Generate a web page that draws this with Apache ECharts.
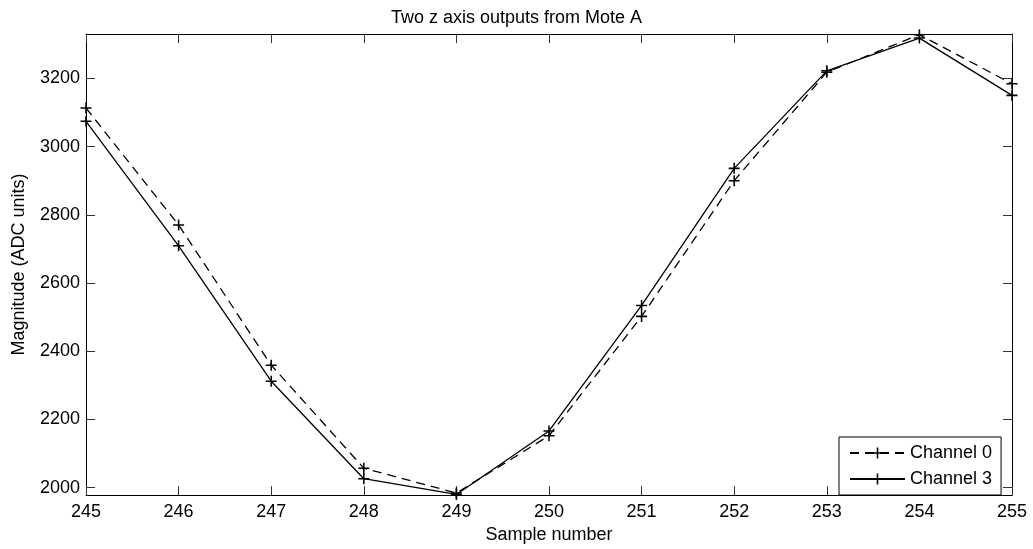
<!DOCTYPE html>
<html>
<head>
<meta charset="utf-8">
<title>Two z axis outputs from Mote A</title>
<script src="https://cdn.jsdelivr.net/npm/echarts@6/dist/echarts.min.js"></script>
<style>
    html, body { margin: 0; padding: 0; background: #fff; }
    #chart { width: 1033px; height: 549px; }
</style>
</head>
<body>
<div id="chart"></div>
<script>
const samples = [245, 246, 247, 248, 249, 250, 251, 252, 253, 254, 255]
const channel0 = [3113, 2770, 2359, 2057, 1984, 2152, 2502, 2900, 3218, 3328, 3184]
const channel3 = [3074, 2709, 2312, 2026, 1980, 2166, 2534, 2936, 3222, 3318, 3150]
const yTicks = [2000, 2200, 2400, 2600, 2800, 3000, 3200]

// '+' marker, filled so it reads like a stroked cross
const plus = 'path://M4.3,0H5.7V4.3H10V5.7H5.7V10H4.3V5.7H0V4.3H4.3Z'
const font = 'Liberation Sans, Arial, Helvetica, sans-serif'
const fs = 18

function pairs(ys) {
    return samples.map((x, i) => [x, ys[i]])
}

const axisLine = { lineStyle: { color: '#000', width: 1 } }
const tick = { inside: true, length: 9, lineStyle: { color: '#333' } }

const chart = echarts.init(document.getElementById('chart'))
chart.setOption({
    animation: false,
    textStyle: { fontFamily: font },
    title: {
        text: 'Two z axis outputs from Mote A',
        left: 'center',
        top: 4,
        textStyle: { fontSize: fs, fontWeight: 'normal', color: '#000', fontFamily: font }
    },
    grid: { left: 86, top: 34, right: 21, bottom: 51 },
    legend: {
        data: ['Channel 0', 'Channel 3'],
        orient: 'vertical',
        left: 839,
        top: 437,
        padding: [7, 9, 7, 10],
        itemGap: 8,
        itemWidth: 55,
        itemHeight: 14,
        borderColor: '#000',
        borderWidth: 1,
        backgroundColor: '#fff',
        textStyle: { fontSize: fs, color: '#000', fontFamily: font }
    },
    xAxis: [
        {
            type: 'value',
            min: 245,
            max: 255,
            interval: 1,
            name: 'Sample number',
            nameLocation: 'middle',
            nameGap: 28,
            nameTextStyle: { fontSize: fs, color: '#000', fontFamily: font },
            axisLine,
            axisTick: tick,
            axisLabel: { fontSize: fs, color: '#000', margin: 8, fontFamily: font },
            splitLine: { show: false }
        },
        {
            type: 'value',
            position: 'top',
            min: 245,
            max: 255,
            interval: 1,
            axisLine,
            axisTick: tick,
            axisLabel: { show: false },
            splitLine: { show: false }
        }
    ],
    yAxis: [
        {
            type: 'value',
            min: 1978,
            max: 3330,
            name: 'Magnitude (ADC units)',
            nameLocation: 'middle',
            nameGap: 58,
            nameTextStyle: { fontSize: fs, color: '#000', fontFamily: font },
            axisLine: { show: true, ...axisLine },
            axisTick: { ...tick, customValues: yTicks },
            axisLabel: {
                fontSize: fs,
                color: '#000',
                margin: 6,
                fontFamily: font,
                customValues: yTicks,
                formatter: v => String(v)
            },
            splitLine: { show: false }
        },
        {
            type: 'value',
            position: 'right',
            min: 1978,
            max: 3330,
            axisLine: { show: true, ...axisLine },
            axisTick: { ...tick, customValues: yTicks },
            axisLabel: { show: false },
            splitLine: { show: false }
        }
    ],
    series: [
        {
            name: 'Channel 0',
            type: 'line',
            data: pairs(channel0),
            symbol: plus,
            symbolSize: 11,
            showAllSymbol: true,
            itemStyle: { color: '#000' },
            lineStyle: { color: '#000', width: 1.3, type: [9, 6] },
            z: 3
        },
        {
            name: 'Channel 3',
            type: 'line',
            data: pairs(channel3),
            symbol: plus,
            symbolSize: 11,
            showAllSymbol: true,
            itemStyle: { color: '#000' },
            lineStyle: { color: '#000', width: 1.3, type: 'solid' },
            z: 4
        }
    ]
})
</script>
</body>
</html>
